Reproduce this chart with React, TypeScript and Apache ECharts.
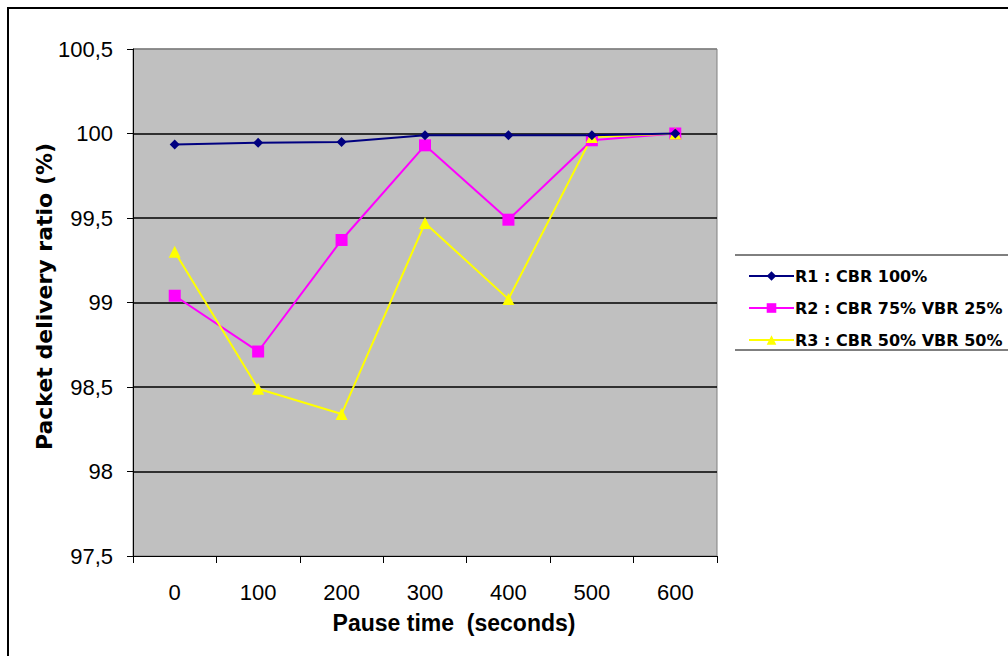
import React, { useEffect, useRef } from "react";
import * as echarts from "echarts";

const categories = ["0", "100", "200", "300", "400", "500", "600"];
const r1 = [99.935, 99.945, 99.95, 99.99, 99.99, 99.99, 100];
const r2 = [99.04, 98.71, 99.37, 99.93, 99.49, 99.96, 100];
const r3 = [99.3, 98.49, 98.34, 99.47, 99.02, 99.98, 100];
const seriesNames = ["R1 : CBR 100%", "R2 : CBR 75% VBR 25%", "R3 : CBR 50% VBR 50%"];

const FONT = "'Liberation Sans', Arial, sans-serif";
const WIDE = "'DejaVu Sans', sans-serif";

export default function App() {
  const ref = useRef<HTMLDivElement>(null);
  useEffect(() => {
    if (!ref.current) return;
    const chart = echarts.init(ref.current, null, { renderer: "svg" });
    chart.setOption({
      animation: false,
      backgroundColor: "#ffffff",
      textStyle: { fontFamily: FONT },
      grid: {
        left: 133,
        top: 49,
        width: 584,
        height: 507,
        show: true,
        backgroundColor: "#C0C0C0",
        borderColor: "#808080",
        borderWidth: 1,
      },
      xAxis: {
        type: "category",
        data: categories,
        boundaryGap: true,
        axisLine: { lineStyle: { color: "#000", width: 1 } },
        axisTick: { show: true, length: 7, alignWithLabel: false, lineStyle: { color: "#000" } },
        axisLabel: { color: "#000", fontSize: 22, fontFamily: FONT, margin: 25 },
        name: "Pause time  (seconds)",
        nameLocation: "middle",
        nameGap: 55,
        nameMoveOverlap: false,
        nameTextStyle: {
          color: "#000",
          fontSize: 23,
          fontWeight: "bold",
          fontFamily: FONT,
          padding: [0, 0, 0, 58],
        },
        splitLine: { show: false },
      },
      yAxis: {
        type: "value",
        min: 97.5,
        max: 100.5,
        interval: 0.5,
        axisLine: { show: true, lineStyle: { color: "#000", width: 1 } },
        axisTick: { show: true, length: 6, lineStyle: { color: "#000" } },
        axisLabel: {
          color: "#000",
          fontSize: 22,
          fontFamily: FONT,
          margin: 20,
          formatter: (v: number) => String(v).replace(".", ","),
        },
        name: "Packet delivery ratio (%)",
        nameLocation: "middle",
        nameGap: 78,
        nameMoveOverlap: false,
        nameRotate: 90,
        nameTextStyle: {
          color: "#000",
          fontSize: 22,
          fontWeight: "bold",
          fontFamily: WIDE,
          padding: [0, 0, 0, 12],
        },
        splitLine: {
          show: true,
          lineStyle: {
            color: ["rgba(0,0,0,0)", "#000", "#000", "#000", "#000", "#000", "#808080"],
            width: 1.5,
          },
        },
      },
      legend: {
        orient: "vertical",
        left: 743,
        top: 263,
        itemWidth: 45,
        itemHeight: 12,
        itemGap: 16,
        data: seriesNames,
        textStyle: {
          color: "#000",
          fontSize: 16,
          fontWeight: "bold",
          fontFamily: WIDE,
          padding: [0, 0, 0, -4],
        },
      },
      series: [
        {
          name: seriesNames[0],
          type: "line",
          data: r1,
          symbol: "diamond",
          symbolSize: 10,
          color: "#000080",
          lineStyle: { color: "#000080", width: 2 },
          itemStyle: { color: "#000080" },
          z: 4,
        },
        {
          name: seriesNames[1],
          type: "line",
          data: r2,
          symbol: "rect",
          symbolSize: 12,
          color: "#FF00FF",
          lineStyle: { color: "#FF00FF", width: 2 },
          itemStyle: { color: "#FF00FF" },
          z: 3,
        },
        {
          name: seriesNames[2],
          type: "line",
          data: r3,
          symbol: "triangle",
          symbolSize: 12,
          color: "#FFFF00",
          lineStyle: { color: "#FFFF00", width: 2 },
          itemStyle: { color: "#FFFF00" },
          z: 3,
        },
      ],
      graphic: [
        {
          type: "rect",
          shape: { x: 8, y: 8, width: 1100, height: 700 },
          style: { fill: "none", stroke: "#000", lineWidth: 2 },
          silent: true,
        },
        {
          type: "line",
          shape: { x1: 735, y1: 255, x2: 1010, y2: 255 },
          style: { stroke: "#000", lineWidth: 1 },
          silent: true,
        },
        {
          type: "line",
          shape: { x1: 735, y1: 350, x2: 1010, y2: 350 },
          style: { stroke: "#000", lineWidth: 1 },
          silent: true,
        },
      ],
    });
    return () => chart.dispose();
  }, []);
  return (
    <div
      ref={ref}
      style={{ position: "fixed", left: 0, top: 0, width: 1008, height: 656 }}
    />
  );
}
